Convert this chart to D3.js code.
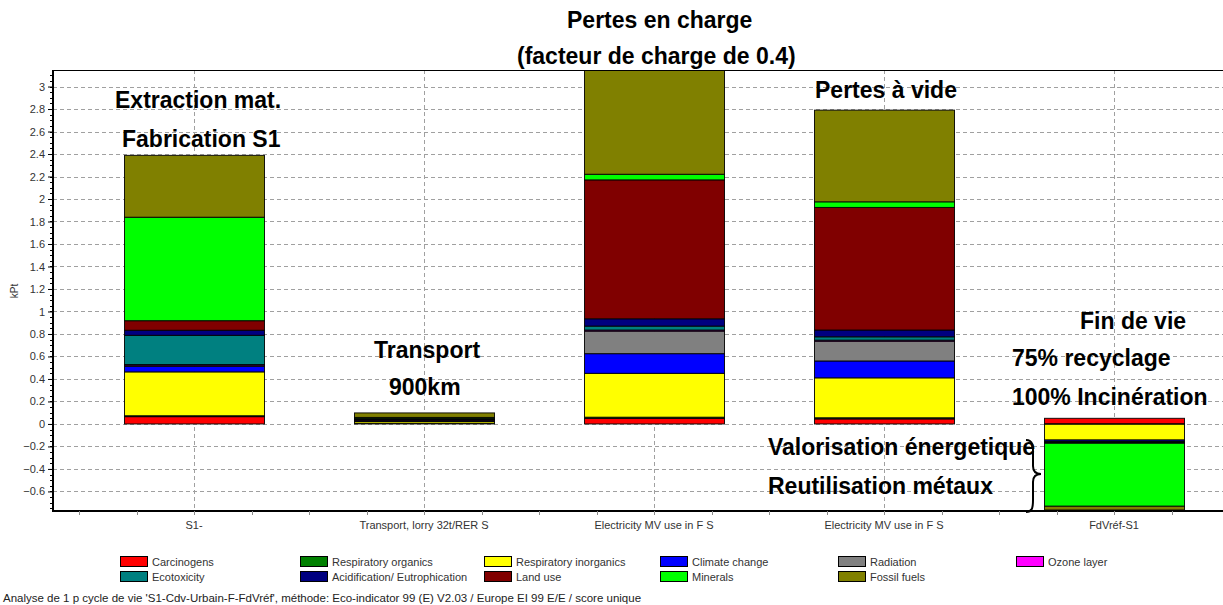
<!DOCTYPE html>
<html>
<head>
<meta charset="utf-8">
<script src="https://cdn.jsdelivr.net/npm/d3@7"></script>
<style>
  html, body { margin: 0; padding: 0; background: #ffffff; }
  svg { display: block; }
</style>
</head>
<body>
<svg id="chart" width="1223" height="605"></svg>
<script>
// Eco-indicator 99 single score per life-cycle stage (kPt)
const categories = ["S1-", "Transport, lorry 32t/RER S", "Electricity MV use in F S", "Electricity MV use in F S", "FdVréf-S1"];

const carcinogens    = [0.065, 0.005, 0.050, 0.045,  0.050];
const respOrganics   = [0.008, 0.002, 0.010, 0.010, -0.003];
const respInorganics = [0.390, 0.015, 0.390, 0.355, -0.140];
const climateChange  = [0.050, 0.010, 0.175, 0.150, -0.012];
const radiation      = [0.005, 0.002, 0.200, 0.175, -0.002];
const ozoneLayer     = [0.010, 0.003, 0.010, 0.010, -0.001];
const ecotoxicity    = [0.260, 0.003, 0.035, 0.030, -0.005];
const acidification  = [0.045, 0.005, 0.065, 0.060, -0.006];
const landUse        = [0.085, 0.003, 1.235, 1.090, -0.003];
const minerals       = [0.920, 0.010, 0.050, 0.050, -0.560];
const fossilFuels    = [0.550, 0.040, 1.050, 0.815, -0.033];

const seriesNames = ["Carcinogens", "Respiratory organics", "Respiratory inorganics", "Climate change",
  "Radiation", "Ozone layer", "Ecotoxicity", "Acidification/ Eutrophication", "Land use", "Minerals", "Fossil fuels"];
const seriesValues = [carcinogens, respOrganics, respInorganics, climateChange, radiation, ozoneLayer,
  ecotoxicity, acidification, landUse, minerals, fossilFuels];
const seriesColors = ["#ff0000", "#008000", "#ffff00", "#0000ff", "#808080", "#ff00ff",
  "#008080", "#000080", "#800000", "#00ff00", "#808000"];

const yTicks = [-0.6, -0.4, -0.2, 0, 0.2, 0.4, 0.6, 0.8, 1, 1.2, 1.4, 1.6, 1.8, 2, 2.2, 2.4, 2.6, 2.8, 3];

const svg = d3.select("#chart");
const plot = { left: 53, top: 70, right: 1223, bottom: 511 };
const sans = "Liberation Sans, Arial, sans-serif";

const x = d3.scaleBand()
  .domain(d3.range(categories.length))
  .range([79, 1229])
  .paddingInner(90 / 230)
  .paddingOuter(45 / 230);

const y = d3.scaleLinear().domain([-0.774, 3.147]).range([plot.bottom, plot.top]);

// table for the stack: one row per category
const rows = categories.map((c, i) => {
  const r = { idx: i };
  seriesNames.forEach((n, s) => { r[n] = seriesValues[s][i]; });
  return r;
});
const stacked = d3.stack().keys(seriesNames).offset(d3.stackOffsetDiverging)(rows);

svg.append("defs").append("clipPath").attr("id", "plotClip")
  .append("rect").attr("x", plot.left).attr("y", plot.top)
  .attr("width", plot.right - plot.left).attr("height", plot.bottom - plot.top);

// horizontal grid
svg.append("g").selectAll("line").data(yTicks).join("line")
  .attr("x1", plot.left).attr("x2", plot.right)
  .attr("y1", d => Math.round(y(d)) + 0.5).attr("y2", d => Math.round(y(d)) + 0.5)
  .attr("stroke", "#a0a0a0").attr("stroke-width", 1).attr("stroke-dasharray", "4,3");

// vertical grid at category centres
svg.append("g").selectAll("line").data(d3.range(categories.length)).join("line")
  .attr("x1", d => Math.round(x(d) + x.bandwidth() / 2) + 0.5)
  .attr("x2", d => Math.round(x(d) + x.bandwidth() / 2) + 0.5)
  .attr("y1", plot.top).attr("y2", plot.bottom)
  .attr("stroke", "#a0a0a0").attr("stroke-width", 1).attr("stroke-dasharray", "4,3");

// stacked bars
const barsG = svg.append("g").attr("clip-path", "url(#plotClip)");
stacked.forEach((layer, s) => {
  barsG.append("g").selectAll("rect").data(layer).join("rect")
    .attr("x", d => x(d.data.idx) + 0.5)
    .attr("width", x.bandwidth())
    .attr("y", d => y(Math.max(d[0], d[1])))
    .attr("height", d => Math.abs(y(d[0]) - y(d[1])))
    .attr("fill", seriesColors[s])
    .attr("stroke", "#000")
    .attr("stroke-width", 1)
    .attr("stroke-opacity", 0.9);
});

// frame: top line, left axis, bottom axis
svg.append("line").attr("x1", plot.left).attr("x2", plot.right)
  .attr("y1", plot.top + 0.5).attr("y2", plot.top + 0.5).attr("stroke", "#000").attr("stroke-width", 1);
svg.append("line").attr("x1", plot.left).attr("x2", plot.left)
  .attr("y1", plot.top).attr("y2", plot.bottom + 1).attr("stroke", "#000").attr("stroke-width", 2);
svg.append("line").attr("x1", plot.left).attr("x2", plot.right)
  .attr("y1", plot.bottom).attr("y2", plot.bottom).attr("stroke", "#000").attr("stroke-width", 2);

// left axis ticks and labels
const yAxis = d3.axisLeft(y).tickValues(yTicks).tickSize(4).tickPadding(3)
  .tickFormat(d => d3.format("~g")(d));
const yG = svg.append("g").attr("transform", `translate(${plot.left - 1},0)`).call(yAxis);
yG.select(".domain").remove();
yG.selectAll("text").attr("font-family", sans).attr("font-size", 11).attr("fill", "#333");
yG.selectAll("line").attr("stroke", "#000");
// minor ticks
svg.append("g").selectAll("line").data(d3.range(-0.75, 3.15, 0.05)).join("line")
  .attr("x1", plot.left - 3).attr("x2", plot.left)
  .attr("y1", d => Math.round(y(d)) + 0.5).attr("y2", d => Math.round(y(d)) + 0.5)
  .attr("stroke", "#000").attr("stroke-width", 1);

// bottom axis: quarter-step minor ticks, labels at category centres
const step = x.step();
svg.append("g").selectAll("line").data(d3.range(0, 21)).join("line")
  .attr("x1", k => Math.round(79 + k * step / 4) + 0.5).attr("x2", k => Math.round(79 + k * step / 4) + 0.5)
  .attr("y1", plot.bottom).attr("y2", plot.bottom + 4)
  .attr("stroke", "#888").attr("stroke-width", 1);
svg.append("g").selectAll("text").data(categories).join("text")
  .attr("x", (d, i) => x(i) + x.bandwidth() / 2)
  .attr("y", 529)
  .attr("text-anchor", "middle")
  .attr("font-family", sans).attr("font-size", 11).attr("fill", "#333")
  .text(d => d);

// y axis title
svg.append("text").attr("transform", "translate(18,291) rotate(-90)")
  .attr("text-anchor", "middle")
  .attr("font-family", sans).attr("font-size", 10).attr("fill", "#333")
  .text("kPt");

// stage annotations (left-aligned)
const notes = [
  { t: "Pertes en charge", x: 567, y: 28 },
  { t: "(facteur de charge de 0.4)", x: 517, y: 64 },
  { t: "Extraction mat.", x: 115, y: 108 },
  { t: "Fabrication S1", x: 122, y: 147 },
  { t: "Pertes à vide", x: 815, y: 98 },
  { t: "Transport", x: 374, y: 358 },
  { t: "900km", x: 389, y: 395 },
  { t: "Fin de vie", x: 1080, y: 329 },
  { t: "75% recyclage", x: 1012, y: 366 },
  { t: "100% Incinération", x: 1012, y: 405 },
  { t: "Valorisation énergetique", x: 768, y: 455 },
  { t: "Reutilisation métaux", x: 768, y: 494 }
];
svg.append("g").selectAll("text").data(notes).join("text")
  .attr("x", d => d.x).attr("y", d => d.y)
  .attr("font-family", sans).attr("font-weight", "bold")
  .attr("font-size", 23).attr("fill", "#000")
  .text(d => d.t);

// curly brace pointing at the negative part of the end-of-life bar
svg.append("path")
  .attr("d", "M1026,440 C1034,440 1033,448 1033,456 L1033,466 C1033,472 1036,474 1041,474 C1036,474 1033,476 1033,482 L1033,500 C1033,508 1032,512 1026,512")
  .attr("fill", "none").attr("stroke", "#000").attr("stroke-width", 2);

// legend, 6 columns x 2 rows
const legendCols = [120, 300, 484, 660, 838, 1016];
const legendG = svg.append("g");
seriesNames.forEach((n, s) => {
  const col = s < 6 ? s : s - 6;
  const row = s < 6 ? 0 : 1;
  const lx = legendCols[col], ly = 556 + row * 15;
  legendG.append("rect").attr("x", lx + 0.5).attr("y", ly + 0.5).attr("width", 27).attr("height", 10)
    .attr("fill", seriesColors[s]).attr("stroke", "#000").attr("stroke-width", 1);
  legendG.append("text").attr("x", lx + 32).attr("y", ly + 9.5)
    .attr("font-family", sans).attr("font-size", 11).attr("fill", "#333")
    .text(n);
});

// footer
svg.append("text").attr("x", 3).attr("y", 602)
  .attr("font-family", sans).attr("font-size", 11.5).attr("fill", "#222")
  .text("Analyse de 1 p cycle de vie 'S1-Cdv-Urbain-F-FdVréf', méthode: Eco-indicator 99 (E) V2.03 / Europe EI 99 E/E / score unique");
</script>
</body>
</html>
